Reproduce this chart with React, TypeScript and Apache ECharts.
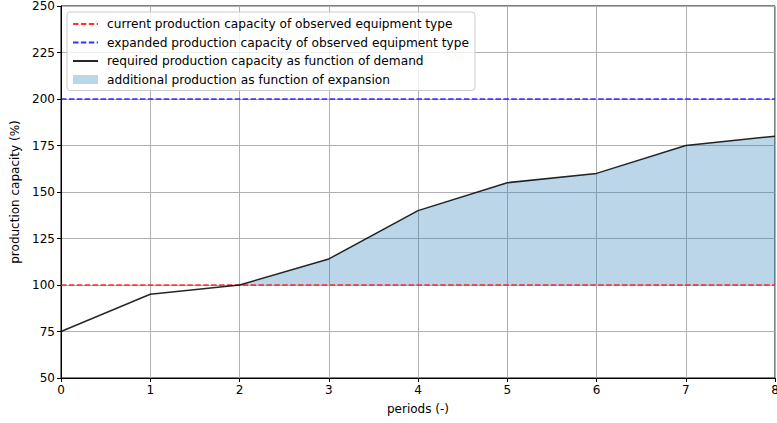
import React, { useEffect, useRef } from "react";
import * as echarts from "echarts";

const periods = ["0", "1", "2", "3", "4", "5", "6", "7", "8"];
const requiredCapacity = [75, 95, 100, 114, 140, 155, 160, 175, 180];
const currentCapacityLevel = 100;
const expandedCapacityLevel = 200;
const yTicks = { min: 50, max: 250, interval: 25 };

const nameCurrent = "current production capacity of observed equipment type";
const nameExpanded = "expanded production capacity of observed equipment type";
const nameRequired = "required production capacity as function of demand";
const nameFill = "additional production as function of expansion";

const FONT = "DejaVu Sans";

export default function App() {
  const ref = useRef<HTMLDivElement>(null);
  useEffect(() => {
    if (!ref.current) return;
    const chart = echarts.init(ref.current, undefined, { renderer: "svg" });
    const currentArr = periods.map(() => currentCapacityLevel);
    const expandedArr = periods.map(() => expandedCapacityLevel);
    const baseArr = periods.map(() => currentCapacityLevel);
    const diffArr = requiredCapacity.map((v) => Math.max(0, v - currentCapacityLevel));
    const fillColor = "rgba(31,119,180,0.3)";
    const dash = [5.5, 2.4];
    chart.setOption({
      animation: false,
      textStyle: { fontFamily: FONT },
      grid: {
        left: 61,
        right: 2,
        top: 6,
        bottom: 45,
        outerBoundsMode: "none",
        containLabel: false,
        show: true,
        borderColor: "#000",
        borderWidth: 1,
        backgroundColor: "transparent",
      },
      legend: {
        orient: "vertical",
        left: 67,
        top: 12,
        padding: [5, 6, 4, 5],
        backgroundColor: "rgba(255,255,255,0.8)",
        borderColor: "#cccccc",
        borderWidth: 1,
        borderRadius: 3,
        itemWidth: 25,
        itemHeight: 9,
        itemGap: 4.5,
        textStyle: { fontSize: 12.2, lineHeight: 14, color: "#000", fontFamily: FONT, padding: [0, 0, 0, 4] },
        data: [
          { name: nameCurrent, itemStyle: { opacity: 0 } },
          { name: nameExpanded, itemStyle: { opacity: 0 } },
          { name: nameRequired, itemStyle: { opacity: 0 } },
          { name: nameFill, icon: "rect", itemStyle: { color: fillColor, borderWidth: 0, opacity: 1 } },
        ],
      },
      xAxis: {
        type: "category",
        data: periods,
        boundaryGap: false,
        name: "periods (-)",
        nameLocation: "middle",
        nameGap: 25,
        nameTextStyle: { fontSize: 12, color: "#000" },
        axisLine: { show: true, lineStyle: { color: "#000", width: 1 } },
        axisTick: { show: true, length: 4, alignWithLabel: true, lineStyle: { color: "#000" } },
        axisLabel: { fontSize: 12, color: "#000", margin: 6 },
        splitLine: { show: true, lineStyle: { color: "#b0b0b0", width: 1 } },
      },
      yAxis: {
        type: "value",
        min: yTicks.min,
        max: yTicks.max,
        interval: yTicks.interval,
        name: "production capacity (%)",
        nameLocation: "middle",
        nameGap: 38,
        nameTextStyle: { fontSize: 12, color: "#000" },
        axisLine: { show: true, lineStyle: { color: "#000", width: 1 } },
        axisTick: { show: true, length: 4, lineStyle: { color: "#000" } },
        axisLabel: { fontSize: 12, color: "#000", margin: 6 },
        splitLine: { show: true, lineStyle: { color: "#b0b0b0", width: 1 } },
      },
      series: [
        {
          name: "base",
          type: "line",
          stack: "fill",
          data: baseArr,
          symbol: "none",
          lineStyle: { opacity: 0, width: 0 },
          silent: true,
          z: 1,
        },
        {
          name: nameFill,
          type: "line",
          stack: "fill",
          data: diffArr,
          symbol: "none",
          itemStyle: { color: fillColor },
          lineStyle: { width: 0, opacity: 0 },
          areaStyle: { color: fillColor, opacity: 1 },
          z: 1,
        },
        {
          name: nameCurrent,
          type: "line",
          data: currentArr,
          symbol: "none",
          itemStyle: { color: "rgba(255,0,0,0.8)" },
          lineStyle: { color: "rgba(255,0,0,0.8)", width: 1.5, type: dash },
          z: 3,
        },
        {
          name: nameExpanded,
          type: "line",
          data: expandedArr,
          symbol: "none",
          itemStyle: { color: "rgba(0,0,255,0.8)" },
          lineStyle: { color: "rgba(0,0,255,0.8)", width: 1.5, type: dash },
          z: 3,
        },
        {
          name: nameRequired,
          type: "line",
          data: requiredCapacity,
          symbol: "none",
          itemStyle: { color: "rgba(0,0,0,0.85)" },
          lineStyle: { color: "rgba(0,0,0,0.85)", width: 1.5 },
          z: 4,
        },
      ],
    });
    return () => chart.dispose();
  }, []);
  return (
    <div
      ref={ref}
      style={{ position: "fixed", left: 0, top: 0, width: 777, height: 423, background: "#fff" }}
    />
  );
}
